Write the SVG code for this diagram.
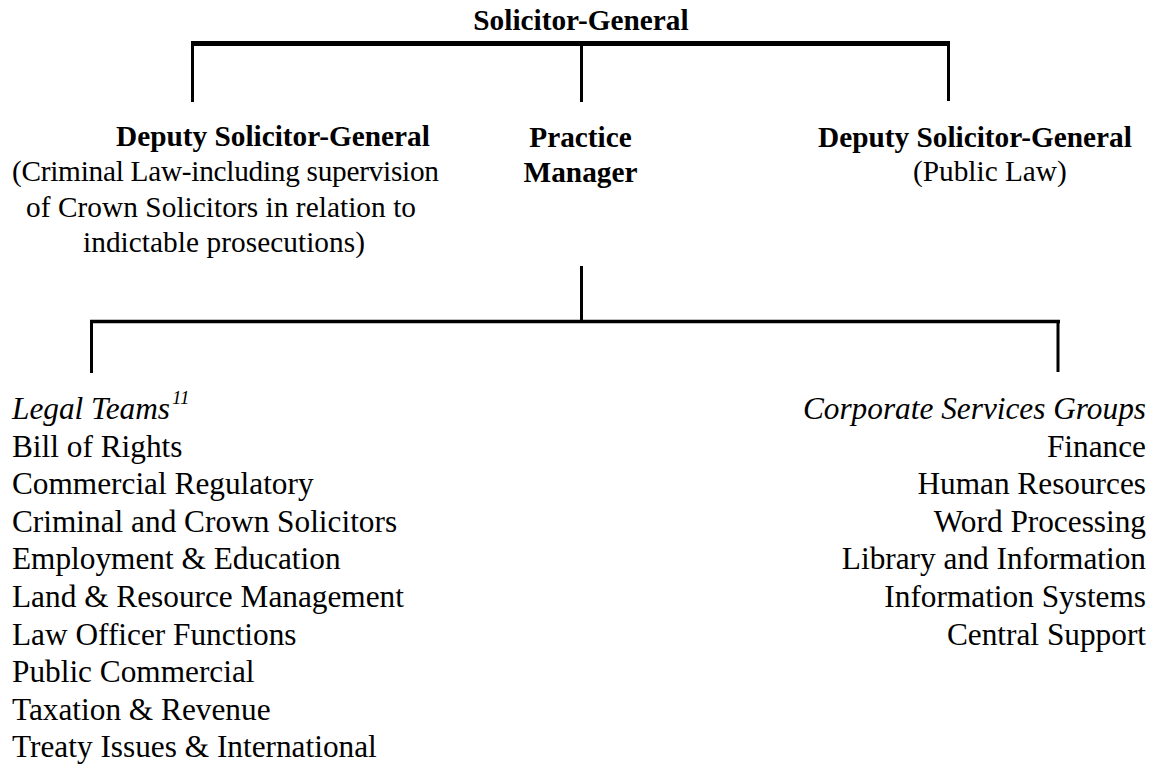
<svg xmlns="http://www.w3.org/2000/svg" width="1163" height="765" viewBox="0 0 1163 765">
<style>
text{font-family:"Liberation Serif","Times New Roman",serif;fill:#000}
.b{font-weight:bold;font-size:29.3px}
.r{font-size:29.3px}
.l{font-size:31.3px}
.i{font-style:italic}
.e{text-anchor:end}
.m{text-anchor:middle}
.ln{stroke:#000;fill:none;stroke-linecap:butt}
</style>
<rect width="1163" height="765" fill="#fff"/>
<g id="connectors">
<line class="ln" x1="191" y1="43.5" x2="950" y2="43.5" stroke-width="5"/>
<line class="ln" x1="192.5" y1="43" x2="192.5" y2="102" stroke-width="3"/>
<line class="ln" x1="581.5" y1="43" x2="581.5" y2="102" stroke-width="3"/>
<line class="ln" x1="948.5" y1="43" x2="948.5" y2="101" stroke-width="3"/>
<line class="ln" x1="581.5" y1="266" x2="581.5" y2="322" stroke-width="3"/>
<line class="ln" x1="90" y1="321.5" x2="1060" y2="321.5" stroke-width="3.3"/>
<line class="ln" x1="91.5" y1="320" x2="91.5" y2="373" stroke-width="3"/>
<line class="ln" x1="1058" y1="320" x2="1058" y2="372" stroke-width="3"/>
</g>
<g id="solicitor-general">
<text class="b m" x="581" y="30">Solicitor-General</text>
</g>
<g id="deputy-criminal">
<text class="b" x="116" y="146">Deputy Solicitor-General</text>
<text class="r" x="12" y="181" textLength="427" lengthAdjust="spacing">(Criminal Law-including supervision</text>
<text class="r" x="26" y="216.5" textLength="390" lengthAdjust="spacing">of Crown Solicitors in relation to</text>
<text class="r" x="83" y="251.5" textLength="282" lengthAdjust="spacing">indictable prosecutions)</text>
</g>
<g id="practice-manager">
<text class="b m" x="580.5" y="146.5">Practice</text>
<text class="b m" x="580.5" y="181.5">Manager</text>
</g>
<g id="deputy-public">
<text class="b" x="818" y="146.5">Deputy Solicitor-General</text>
<text class="r" x="913" y="180.5">(Public Law)</text>
</g>
<g id="legal-teams">
<text class="l i" x="12" y="419">Legal Teams<tspan font-size="19" dx="2" dy="-15">11</tspan></text>
<text class="l" x="12" y="456.6">Bill of Rights</text>
<text class="l" x="12" y="494.2">Commercial Regulatory</text>
<text class="l" x="12" y="531.8">Criminal and Crown Solicitors</text>
<text class="l" x="12" y="569.4">Employment &amp; Education</text>
<text class="l" x="12" y="607">Land &amp; Resource Management</text>
<text class="l" x="12" y="644.6">Law Officer Functions</text>
<text class="l" x="12" y="682.2">Public Commercial</text>
<text class="l" x="12" y="719.8">Taxation &amp; Revenue</text>
<text class="l" x="12" y="757.4">Treaty Issues &amp; International</text>
</g>
<g id="corporate-services">
<text class="l i e" x="1146" y="419">Corporate Services Groups</text>
<text class="l e" x="1146" y="456.6">Finance</text>
<text class="l e" x="1146" y="494.2">Human Resources</text>
<text class="l e" x="1146" y="531.8">Word Processing</text>
<text class="l e" x="1146" y="569.4">Library and Information</text>
<text class="l e" x="1146" y="607">Information Systems</text>
<text class="l e" x="1146" y="644.6">Central Support</text>
</g>
</svg>
